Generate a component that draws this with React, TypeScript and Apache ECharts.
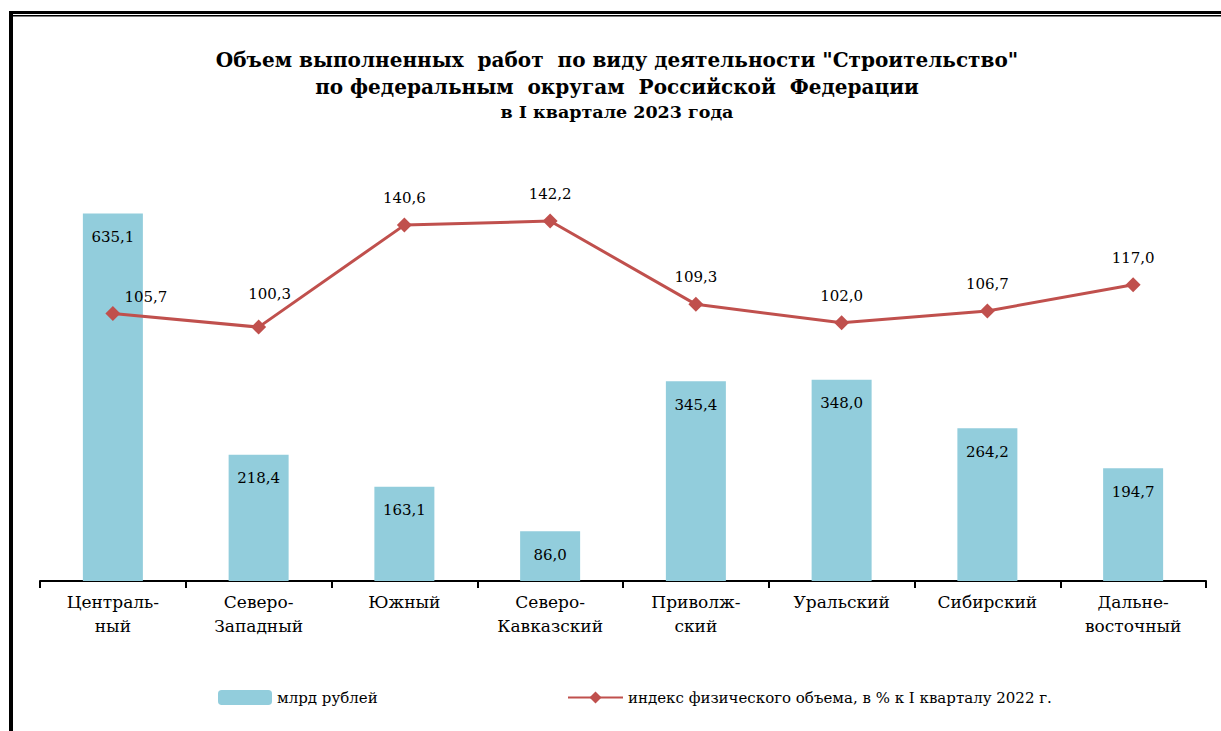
import React, { useEffect, useRef } from "react";
import * as echarts from "echarts";

const categories = [
  "Централь-\nный",
  "Северо-\nЗападный",
  "Южный",
  "Северо-\nКавказский",
  "Приволж-\nский",
  "Уральский",
  "Сибирский",
  "Дальне-\nвосточный",
];
const volumeBln = [635.1, 218.4, 163.1, 86.0, 345.4, 348.0, 264.2, 194.7];
const indexPct = [105.7, 100.3, 140.6, 142.2, 109.3, 102.0, 106.7, 117.0];
const barName = "млрд рублей";
const lineName = "индекс физического объема, в % к I кварталу 2022 г.";
const titleLines = [
  'Объем выполненных  работ  по виду деятельности "Строительство"',
  "по федеральным  округам  Российской  Федерации",
  "в I квартале 2023 года",
];

const FONT = "DejaVu Serif";
const fmt = (v: number) => v.toFixed(1).replace(".", ",");

export default function App() {
  const ref = useRef<HTMLDivElement>(null);
  useEffect(() => {
    document.body.style.margin = "0";
    const chart = echarts.init(ref.current!, null, { renderer: "svg" });
    const lineData = indexPct.map((v, i) => {
      if (i === 0) return { value: v, label: { offset: [33, 11] } };
      if (i === 1) return { value: v, label: { offset: [11, -6] } };
      return v;
    });
    chart.setOption({
      animation: false,
      backgroundColor: "#ffffff",
      textStyle: { fontFamily: FONT },
      title: [
        {
          text: titleLines[0] + "\n" + titleLines[1],
          left: 617,
          textAlign: "center",
          top: 46,
          padding: 0,
          textStyle: {
            fontFamily: FONT,
            fontWeight: "bold",
            fontSize: 20,
            lineHeight: 27,
            color: "#000",
          },
        },
        {
          text: titleLines[2],
          left: 617,
          textAlign: "center",
          top: 103,
          padding: 0,
          textStyle: {
            fontFamily: FONT,
            fontWeight: "bold",
            fontSize: 17.5,
            color: "#000",
          },
        },
      ],
      legend: [
        {
          data: [barName],
          left: 218,
          top: 690,
          padding: 0,
          itemWidth: 54,
          itemHeight: 15,
          itemGap: 8,
          textStyle: { fontFamily: FONT, fontSize: 15, color: "#000" },
        },
        {
          data: [lineName],
          left: 567,
          top: 690,
          padding: 0,
          itemWidth: 55,
          itemHeight: 15,
          textStyle: { fontFamily: FONT, fontSize: 15, color: "#000" },
        },
      ],
      grid: { left: 40, right: 15, top: 176, bottom: 150 },
      xAxis: {
        type: "category",
        data: categories,
        axisLine: { lineStyle: { color: "#000", width: 2 } },
        axisTick: { show: true, inside: false, length: 7, lineStyle: { color: "#000", width: 2 } },
        axisLabel: {
          fontFamily: FONT,
          fontSize: 17,
          lineHeight: 24,
          color: "#000",
          margin: 9,
          interval: 0,
        },
      },
      yAxis: [
        { type: "value", min: 0, max: 700, show: false, splitLine: { show: false } },
        { type: "value", min: 0, max: 160, show: false, splitLine: { show: false } },
      ],
      series: [
        {
          name: barName,
          type: "bar",
          data: volumeBln,
          barWidth: 60,
          itemStyle: { color: "#92CDDC" },
          label: {
            show: true,
            position: "insideTop",
            distance: 16,
            fontFamily: FONT,
            fontSize: 15,
            color: "#000",
            formatter: (p: any) => fmt(p.value),
          },
        },
        {
          name: lineName,
          type: "line",
          yAxisIndex: 1,
          data: lineData,
          symbol: "diamond",
          symbolSize: 15,
          itemStyle: { color: "#C0504D" },
          lineStyle: { color: "#C0504D", width: 3 },
          label: {
            show: true,
            position: "top",
            distance: 12,
            fontFamily: FONT,
            fontSize: 15,
            color: "#000",
            formatter: (p: any) => fmt(p.value),
          },
        },
      ],
      graphic: [
        { type: "rect", shape: { x: 9, y: 11, width: 1212, height: 3 }, style: { fill: "#000" } },
        { type: "rect", shape: { x: 12, y: 15, width: 1209, height: 1.5 }, style: { fill: "#000" } },
        { type: "rect", shape: { x: 9, y: 11, width: 4, height: 720 }, style: { fill: "#000" } },
      ],
    });
    return () => chart.dispose();
  }, []);
  return <div ref={ref} style={{ width: 1221, height: 731 }} />;
}
